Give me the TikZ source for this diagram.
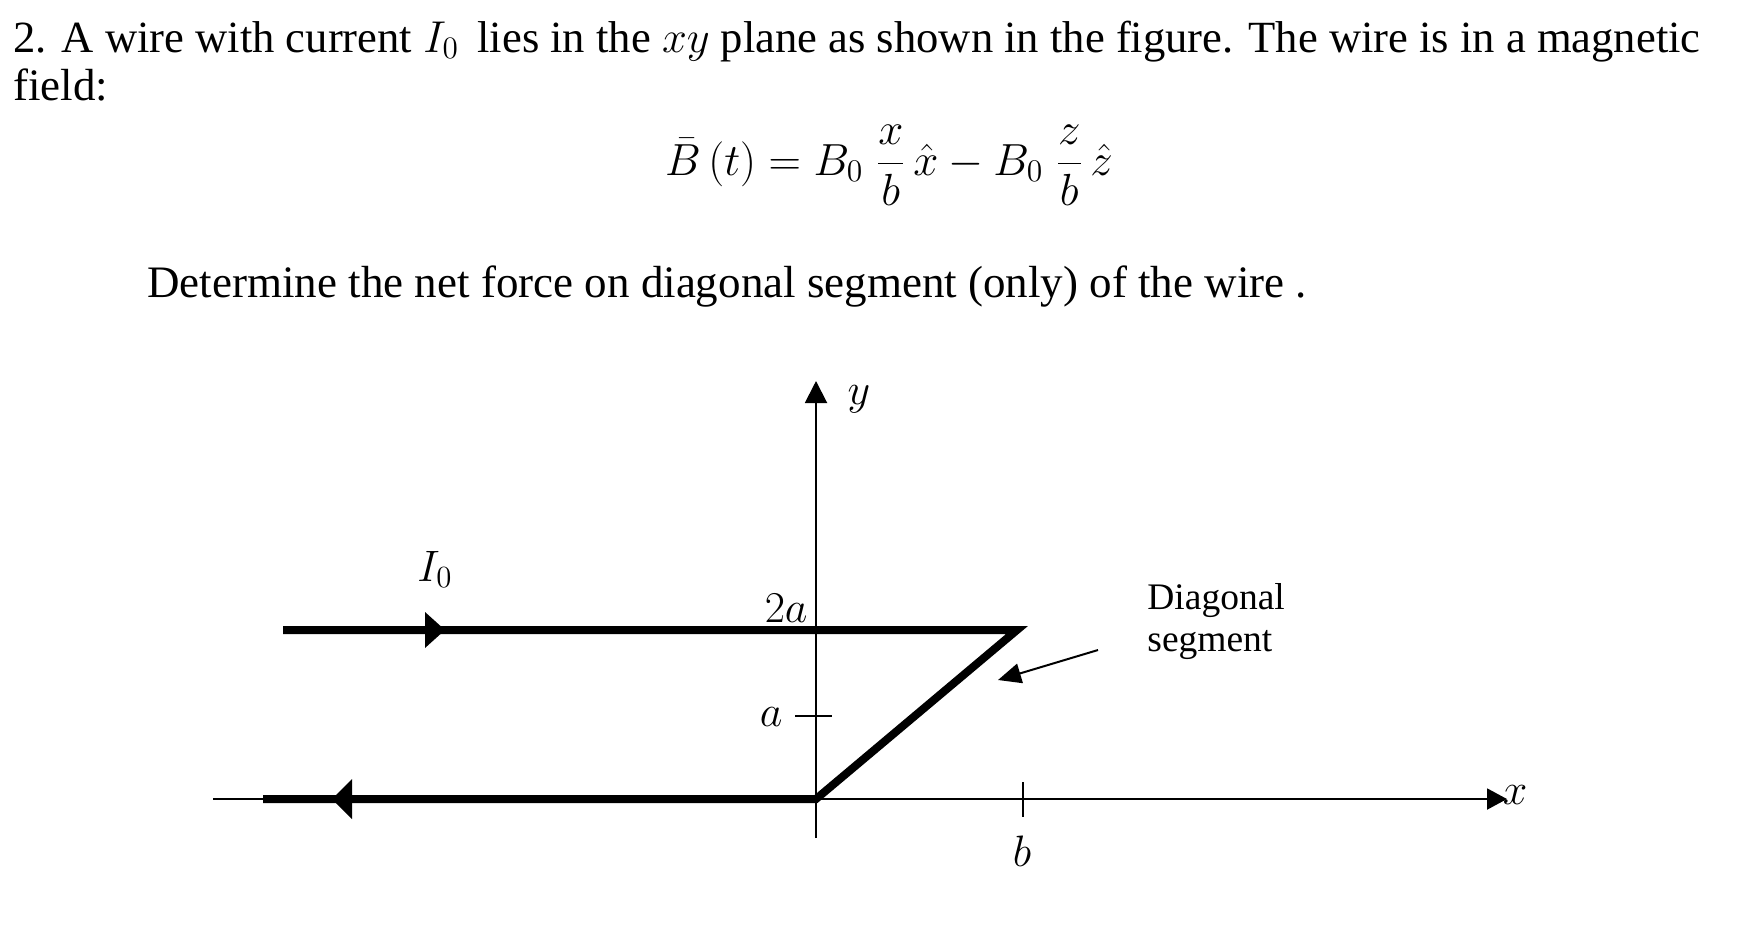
\RequirePackage{fix-cm}
\documentclass[tikz,border=0pt]{standalone}
\usepackage{fontspec}
\setmainfont{Liberation Serif}
\usetikzlibrary{arrows.meta}
\begin{document}
\begin{tikzpicture}[x=0.5pt,y=-0.5pt,
  txt/.style={inner sep=0pt, font=\fontsize{22.5}{24}\selectfont},
  mlab/.style={inner sep=0pt, font=\fontsize{22}{24}\selectfont},
  axisline/.style={line width=1pt},
  wire/.style={line width=4pt, line join=miter},
  pointer/.style={line width=1pt, -{Triangle[length=11.5pt,width=10pt]}},
  headfill/.style={fill=black}]
\useasboundingbox (0,0) rectangle (1743,938);
% text
\node[txt, anchor=base west, font=\fontsize{22.3}{24}\selectfont] (line1) at (13,52) {2. A wire with current $I_0$\, lies in the $xy$ plane as shown in the figure. The wire is in a magnetic};
\node[txt, anchor=base west] (line2) at (13,100) {field:};
\node[inner sep=0pt, anchor=base, font=\fontsize{22.5}{26}\selectfont] (eq) at (889,175) {$\displaystyle \bar{B}\,(t) = B_0\;\frac{x}{b}\,\hat{x} - B_0\;\frac{z}{b}\,\hat{z}$};
\node[txt, anchor=base west] (question) at (147,297) {Determine the net force on diagonal segment (only) of the wire .};
% geometry
\coordinate (O) at (816,799);
\coordinate (xl) at (213,799);
\coordinate (xr) at (1507,799);
\coordinate (yb) at (816,838);
\coordinate (yt) at (816,381);
\coordinate (w1) at (283,630);
\coordinate (c) at (1017,630);
\coordinate (w2) at (263,799);
\coordinate (ta1) at (795,716);
\coordinate (ta2) at (832,716);
\coordinate (tb1) at (1023,782);
\coordinate (tb2) at (1023,817);
\coordinate (ps) at (1098,650);
\coordinate (pe) at (998,680);
% axes
\draw[axisline, -{Triangle[length=10pt,width=10.5pt]}] (xl) -- (xr);
\draw[axisline, -{Triangle[length=11pt,width=11pt]}] (yb) -- (yt);
\draw[axisline] (ta1) -- (ta2);
\draw[axisline] (tb1) -- (tb2);
% wire
\draw[wire] (w1) -- (c) -- (O) -- (w2);
\fill[headfill] (425,612) -- (445,630) -- (425,648) -- cycle;
\fill[headfill] (352,779) -- (332,799) -- (352,819) -- cycle;
% pointer
\draw[pointer] (ps) -- (pe);
% labels
\node[mlab, anchor=center] (ylab) at (859,399) {$y$};
\node[mlab, anchor=center] (xlab) at (1515,795) {$x$};
\node[mlab, anchor=base west] (Ilab) at (417,581) {$I_0$};
\node[mlab, anchor=base east] (twoa) at (808,622) {$2a$};
\node[mlab, anchor=base east] (alab) at (783,726) {$a$};
\node[mlab, anchor=base] (blab) at (1022,866) {$b$};
\node[inner sep=0pt, anchor=base west, align=left, font=\fontsize{18.75}{20.7}\selectfont] (diag) at (1147,651) {Diagonal\\segment};
\end{tikzpicture}
\end{document}
